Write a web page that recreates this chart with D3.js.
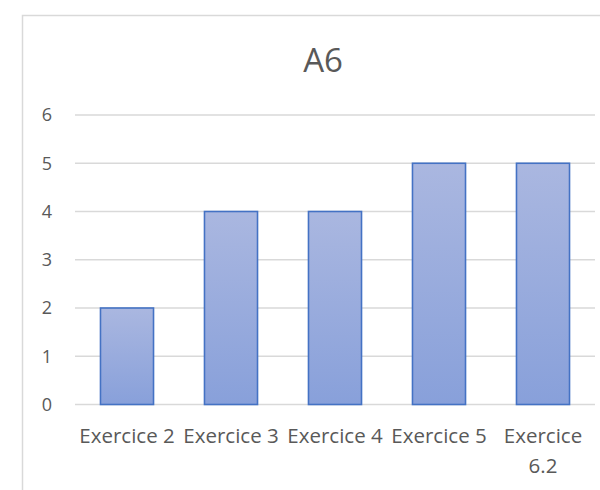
<!DOCTYPE html>
<html>
<head>
<meta charset="utf-8">
<script src="https://cdn.jsdelivr.net/npm/d3@7"></script>
<style>
  html, body { margin: 0; padding: 0; background: #ffffff; }
  svg { display: block; }
  text { font-family: "Open Sans", "Noto Sans", sans-serif; fill: #595959; }
</style>
</head>
<body>
<script>
const title = "A6";
const categories = ["Exercice 2", "Exercice 3", "Exercice 4", "Exercice 5", "Exercice 6.2"];
const values = [2, 4, 4, 5, 5];
const yTicks = [0, 1, 2, 3, 4, 5, 6];

const W = 600, H = 490;
const svg = d3.select("body").append("svg").attr("width", W).attr("height", H);

const defs = svg.append("defs");
const grad = defs.append("linearGradient").attr("id", "barGrad")
  .attr("x1", 0).attr("y1", 0).attr("x2", 0).attr("y2", 1);
grad.append("stop").attr("offset", "0%").attr("stop-color", "#aab7e0");
grad.append("stop").attr("offset", "100%").attr("stop-color", "#88a0da");

svg.append("rect").attr("x", 22.5).attr("y", 15.5).attr("width", 640).attr("height", 520)
  .attr("fill", "#ffffff").attr("stroke", "#d9d9d9").attr("stroke-width", 1.5);

const x = d3.scaleBand().domain(categories).range([75, 595]).paddingInner(0.49).paddingOuter(0.245);
const y = d3.scaleLinear().domain([0, 6]).range([404.5, 115]);

svg.append("g").selectAll("line").data(yTicks).join("line")
  .attr("x1", 75).attr("x2", 595)
  .attr("y1", d => y(d)).attr("y2", d => y(d))
  .attr("stroke", "#d9d9d9").attr("stroke-width", 1.3);

const yAxis = d3.axisLeft(y).tickValues(yTicks).tickSize(0).tickPadding(0).tickFormat(d3.format("d"));
const gy = svg.append("g").attr("transform", "translate(52,0)").call(yAxis);
gy.select(".domain").remove();
gy.selectAll("text").style("font-size", "18px").attr("fill", "#595959")
  .style("font-family", "\"Open Sans\", sans-serif");

svg.append("g").selectAll("rect").data(values).join("rect")
  .attr("x", (d, i) => x(categories[i]))
  .attr("width", x.bandwidth())
  .attr("y", d => y(d))
  .attr("height", d => y(0) - y(d))
  .attr("fill", "url(#barGrad)")
  .attr("stroke", "#4472c4").attr("stroke-width", 1.6);

const xAxis = d3.axisBottom(x).tickSize(0).tickPadding(0);
const gx = svg.append("g").attr("transform", "translate(0,404.5)").call(xAxis);
gx.select(".domain").remove();
gx.selectAll("text").each(function(d) {
  const t = d3.select(this);
  t.text(null).attr("y", 0).attr("dy", null)
    .style("font-size", "20.5px").attr("fill", "#595959")
    .style("font-family", "\"Open Sans\", sans-serif");
  const lines = d === "Exercice 6.2" ? ["Exercice", "6.2"] : [d];
  lines.forEach((ln, k) => {
    t.append("tspan").attr("x", 0).attr("y", 38 + k * 30).text(ln);
  });
});

svg.append("text").attr("x", 323).attr("y", 72).attr("text-anchor", "middle")
  .style("font-size", "33px").attr("fill", "#595959").text(title);
</script>
</body>
</html>
